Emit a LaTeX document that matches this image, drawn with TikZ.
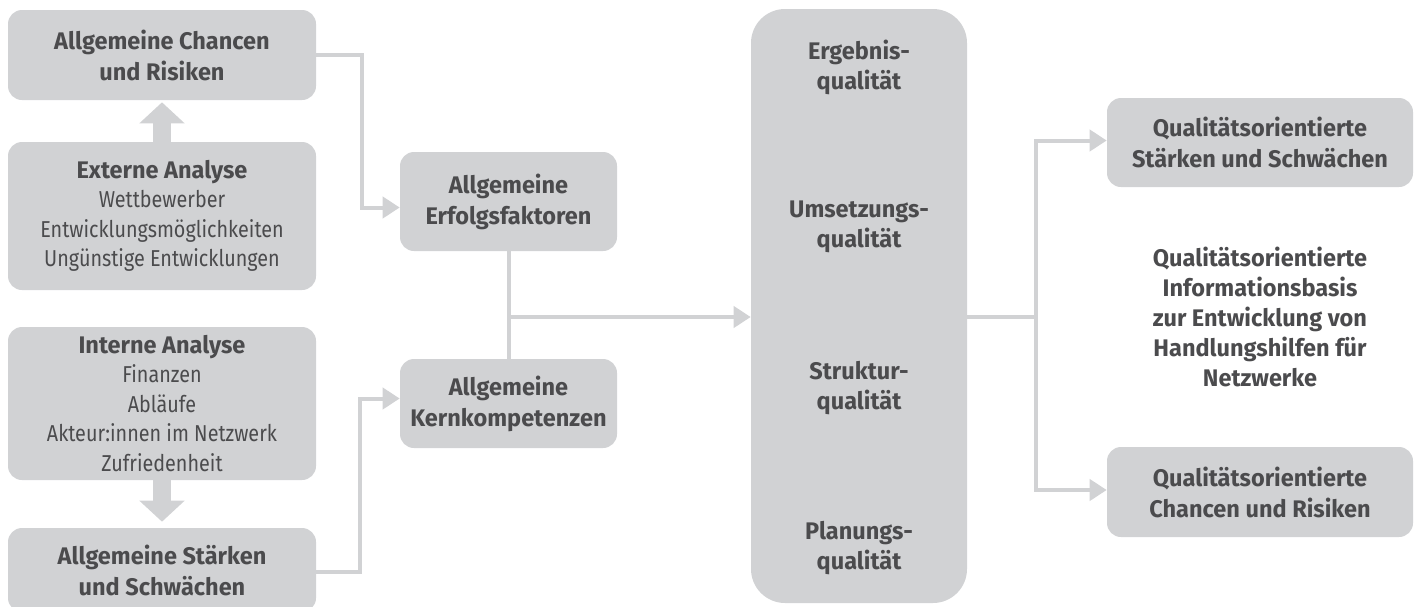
\documentclass[tikz,border=0pt]{standalone}
\usepackage{fontspec}
\setmainfont{Fira Sans}[FakeStretch=0.86, BoldFeatures={FakeStretch=0.98}]
\usetikzlibrary{calc}
\usetikzlibrary{positioning}
\usetikzlibrary{arrows.meta}
\definecolor{boxGrey}{HTML}{D1D2D4}
\definecolor{textGrey}{HTML}{4B4B4D}
\tikzset{every picture/.style={semithick}}
\tikzset{
  box/.style={fill=boxGrey, rounded corners=14pt, text=textGrey, align=center,
    inner sep=0pt, font=\fontsize{23}{29.5}\selectfont},
  boldbox/.style={box, font=\fontsize{24}{31}\selectfont\bfseries},
  label/.style={text=textGrey, align=center, inner sep=0pt,
    font=\fontsize{24}{30}\selectfont\bfseries},
  conn/.style={draw=boxGrey, line width=4pt},
  tip/.style={conn, -{Triangle[length=17pt,width=21pt]}},
  fat/.style={draw=boxGrey, line width=18pt, -{Triangle[length=21pt,width=44pt]}},
}

\begin{document}
\begin{tikzpicture}[x=1pt,y=-1pt]
    \clip (0,0) rectangle (1417,606);
    \node[boldbox, minimum width=308pt, minimum height=90pt] (chancen) at (162,55) {Allgemeine Chancen\\und Risiken};
    \node[box, minimum width=308pt, minimum height=148pt] (extern) at (162,216) {{\fontsize{24}{29.5}\selectfont\bfseries Externe Analyse}\\Wettbewerber\\Entwicklungsmöglichkeiten\\Ungünstige Entwicklungen};
    \node[box, minimum width=308pt, minimum height=153pt] (intern) at (162,403.5) {{\fontsize{24}{29.5}\selectfont\bfseries Interne Analyse}\\Finanzen\\Abläufe\\Akteur:innen im Netzwerk\\Zufriedenheit};
    \node[boldbox, minimum width=308pt, minimum height=84pt] (staerken) at (162,570) {Allgemeine Stärken\\und Schwächen};
    \node[boldbox, minimum width=217pt, minimum height=99pt] (erfolg) at (508.5,201.5) {Allgemeine\\Erfolgsfaktoren};
    \node[boldbox, minimum width=217pt, minimum height=89pt] (kern) at (508.5,403.5) {Allgemeine\\Kernkompetenzen};
    \node[box, rounded corners=34pt, minimum width=216pt, minimum height=594pt] (quali) at (859,306) {};
    \node[label] (ergebnis) at (859,67) {Ergebnis-\\qualität};
    \node[label] (umsetzung) at (859,227) {Umsetzungs-\\qualität};
    \node[label] (struktur) at (859,388) {Struktur-\\qualität};
    \node[label] (planung) at (859,548) {Planungs-\\qualität};
    \node[boldbox, minimum width=306pt, minimum height=89pt] (qsw) at (1260,142.5) {Qualitätsorientierte\\Stärken und Schwächen};
    \node[boldbox, minimum width=306pt, minimum height=90pt] (qcr) at (1260,492) {Qualitätsorientierte\\Chancen und Risiken};
    \node[label] (basis) at (1260,317) {Qualitätsorientierte\\Informationsbasis\\zur Entwicklung von\\Handlungshilfen für\\Netzwerke};
    \coordinate (junction) at (508.5,317);
    \coordinate (split) at (1036,317);
    \draw[fat, shorten >=2pt] (extern.north) -- (chancen.south);
    \draw[fat, shorten >=6pt] (intern.south) -- (staerken.north);
    \draw[tip] (chancen.east) -- ++(46,0) |- ([yshift=-6pt]erfolg.west);
    \draw[tip] (staerken.east |- 0,572) -- ++(44,0) |- ([yshift=5pt]kern.west);
    \draw[conn] (erfolg.south) -- (kern.north);
    \draw[tip] (junction) -- (junction -| quali.west);
    \draw[conn] (junction -| quali.east) -- (split);
    \draw[tip] (split) |- ([yshift=2pt]qsw.west);
    \draw[tip] (split) |- ([yshift=2pt]qcr.west);
\end{tikzpicture}
\end{document}
